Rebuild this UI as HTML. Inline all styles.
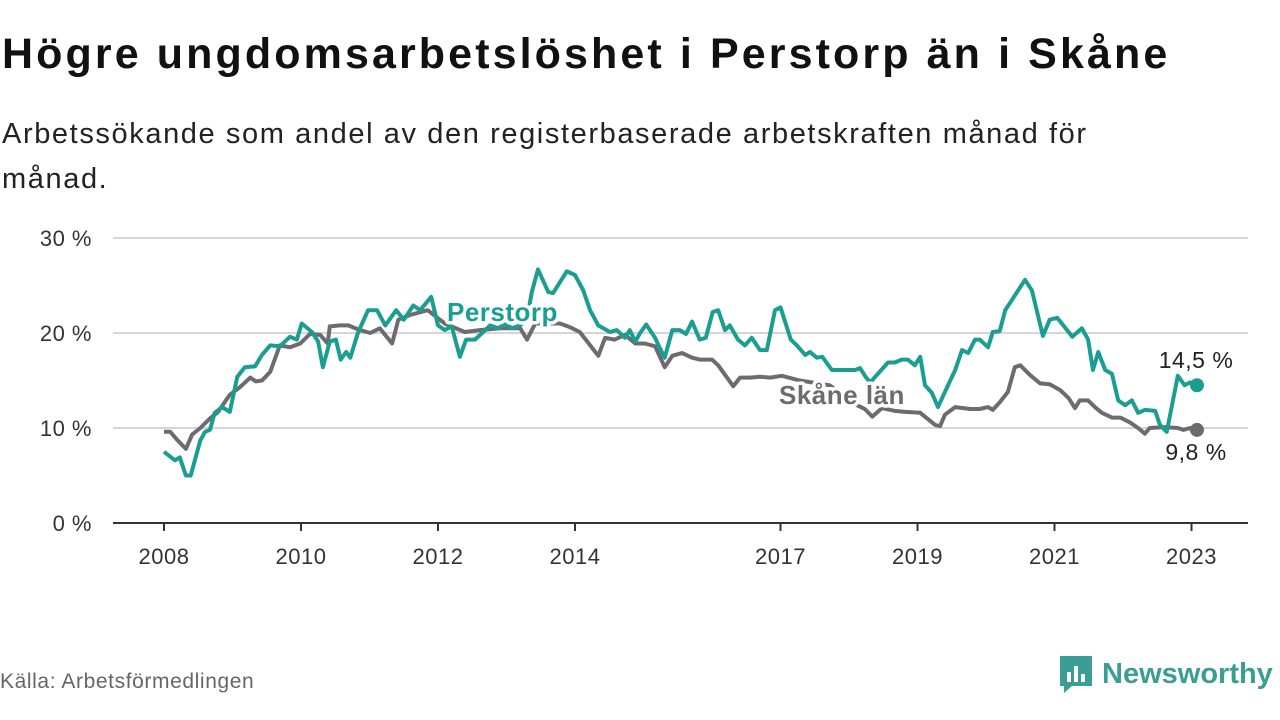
<!DOCTYPE html>
<html><head><meta charset="utf-8">
<style>
body{margin:0;width:1280px;height:720px;background:#fff;font-family:"Liberation Sans",sans-serif;overflow:hidden;position:relative}
h1{position:absolute;left:2px;top:30px;margin:0;font-size:43px;font-weight:bold;color:#111;letter-spacing:3.1px;white-space:nowrap}
.sub{position:absolute;left:2px;top:112px;margin:0;font-size:29px;line-height:45px;color:#222;width:1180px;letter-spacing:1.6px}
.src{position:absolute;left:0;top:670px;font-size:21px;color:#666;letter-spacing:0.6px}
.logo{position:absolute;left:1058px;top:654px;display:flex;align-items:center}
.logo span{font-size:29px;font-weight:bold;color:#3a9e94;margin-left:8px}
</style></head><body>
<h1>Högre ungdomsarbetslöshet i Perstorp än i Skåne</h1>
<p class="sub">Arbetssökande som andel av den registerbaserade arbetskraften månad för månad.</p>
<svg id="chart" width="1280" height="720" style="position:absolute;left:0;top:0"></svg>
<div class="src">Källa: Arbetsförmedlingen</div>
<div class="logo">
<svg width="36" height="40"><path d="M2 2h32v30h-20l-8 7v-7h-4z" fill="#3a9e94"/><rect x="9" y="18" width="4" height="10" fill="#fff"/><rect x="16" y="12" width="4" height="16" fill="#fff"/><rect x="23" y="20" width="4" height="8" fill="#fff"/></svg>
<span>Newsworthy</span></div>
<script>
const yTicks=[0,10,20,30];
const yTickLabels=["0 %","10 %","20 %","30 %"];
const xTicks=[2008,2010,2012,2014,2017,2019,2021,2023];
const perT=[2008.00,2008.16,2008.23,2008.32,2008.39,2008.53,2008.60,2008.67,2008.74,2008.85,2008.96,2009.07,2009.18,2009.33,2009.43,2009.55,2009.69,2009.84,2009.94,2010.01,2010.16,2010.25,2010.32,2010.42,2010.51,2010.58,2010.66,2010.72,2010.83,2010.98,2011.11,2011.23,2011.39,2011.50,2011.64,2011.74,2011.90,2012.00,2012.10,2012.20,2012.32,2012.41,2012.54,2012.66,2012.76,2012.88,2012.98,2013.08,2013.20,2013.30,2013.37,2013.46,2013.61,2013.68,2013.88,2014.00,2014.12,2014.22,2014.34,2014.51,2014.61,2014.73,2014.80,2014.88,2014.95,2015.04,2015.17,2015.24,2015.31,2015.42,2015.53,2015.62,2015.71,2015.82,2015.91,2016.01,2016.09,2016.19,2016.26,2016.38,2016.48,2016.58,2016.70,2016.80,2016.92,2017.00,2017.15,2017.24,2017.36,2017.43,2017.53,2017.61,2017.75,2017.94,2018.09,2018.16,2018.25,2018.31,2018.57,2018.67,2018.77,2018.86,2018.96,2019.04,2019.11,2019.21,2019.30,2019.40,2019.55,2019.65,2019.74,2019.84,2019.91,2020.03,2020.10,2020.20,2020.28,2020.38,2020.57,2020.67,2020.83,2020.93,2021.04,2021.15,2021.26,2021.40,2021.49,2021.56,2021.64,2021.74,2021.84,2021.93,2022.03,2022.13,2022.22,2022.32,2022.47,2022.54,2022.64,2022.80,2022.90,2022.98,2023.08];
const perV=[7.5,6.6,6.9,5.0,5.0,8.7,9.6,9.8,11.6,12.2,11.7,15.4,16.4,16.5,17.7,18.7,18.6,19.6,19.3,21.0,20.1,19.1,16.4,19.1,19.3,17.2,18.0,17.4,20.0,22.4,22.4,20.8,22.4,21.4,22.9,22.4,23.8,20.8,20.3,20.7,17.5,19.3,19.3,20.1,20.8,20.5,21.0,20.5,20.8,21.5,24.3,26.7,24.3,24.2,26.5,26.1,24.5,22.4,20.8,20.1,20.3,19.5,20.3,19.1,20.0,20.9,19.5,18.4,17.4,20.3,20.3,19.9,21.2,19.3,19.5,22.2,22.4,20.3,20.8,19.3,18.7,19.5,18.2,18.2,22.4,22.7,19.3,18.7,17.7,18.0,17.4,17.5,16.1,16.1,16.1,16.3,15.3,14.8,16.9,16.9,17.2,17.2,16.6,17.5,14.5,13.7,12.2,13.8,16.1,18.2,17.9,19.3,19.3,18.5,20.1,20.2,22.4,23.5,25.6,24.5,19.7,21.4,21.6,20.6,19.6,20.5,19.3,16.1,18.0,16.1,15.7,12.9,12.4,12.9,11.6,11.9,11.8,10.3,9.6,15.5,14.5,14.8,14.5];
const skaT=[2008.00,2008.09,2008.20,2008.32,2008.41,2008.53,2008.67,2008.79,2008.96,2009.11,2009.26,2009.34,2009.43,2009.55,2009.69,2009.84,2009.99,2010.13,2010.28,2010.39,2010.42,2010.57,2010.69,2010.86,2011.01,2011.15,2011.33,2011.42,2011.59,2011.85,2012.10,2012.39,2012.61,2012.91,2013.20,2013.30,2013.42,2013.78,2013.93,2014.07,2014.34,2014.44,2014.58,2014.73,2014.88,2015.02,2015.17,2015.31,2015.42,2015.56,2015.71,2015.82,2016.00,2016.09,2016.19,2016.31,2016.41,2016.55,2016.70,2016.85,2017.02,2017.28,2017.72,2018.09,2018.23,2018.34,2018.48,2018.67,2018.82,2019.04,2019.26,2019.33,2019.40,2019.55,2019.77,2019.91,2020.03,2020.10,2020.20,2020.32,2020.42,2020.50,2020.64,2020.79,2020.93,2021.08,2021.20,2021.30,2021.37,2021.49,2021.59,2021.69,2021.84,2021.96,2022.10,2022.22,2022.32,2022.39,2022.61,2022.80,2022.88,2022.98,2023.08];
const skaV=[9.6,9.6,8.7,7.8,9.3,10,11,11.7,13.5,14.3,15.3,14.9,15.0,15.9,18.7,18.5,18.9,19.9,19.8,18.9,20.7,20.8,20.8,20.3,20.0,20.5,18.9,21.4,21.9,22.4,21,20.1,20.3,20.5,20.5,19.3,21,21,20.6,20.1,17.6,19.5,19.3,19.8,18.9,18.9,18.6,16.4,17.6,17.9,17.4,17.2,17.2,16.6,15.6,14.4,15.3,15.3,15.4,15.3,15.5,15.0,14.5,12.5,12.0,11.2,12.1,11.8,11.7,11.6,10.3,10.2,11.4,12.2,12.0,12.0,12.2,11.9,12.7,13.8,16.4,16.6,15.6,14.7,14.6,14.0,13.2,12.1,12.9,12.9,12.2,11.6,11.1,11.1,10.6,10.0,9.4,10.0,10.1,10.0,9.8,10.0,9.8];
const NS="http://www.w3.org/2000/svg";
const svg=document.getElementById('chart');
const X=t=>164+(t-2008)*68.5, Y=v=>523-v*9.5;
function mk(tag,at,txt){const e=document.createElementNS(NS,tag);for(const k in at)e.setAttribute(k,at[k]);if(txt!=null)e.textContent=txt;svg.appendChild(e);return e;}
yTicks.forEach((v,i)=>{
 if(v>0){const g=mk('line',{x1:113,x2:1248,y1:Y(v),y2:Y(v),stroke:'#d6d6d6','stroke-width':2});
 
 }
 const t=mk('text',{x:92,y:Y(v)+8,'text-anchor':'end','font-size':22,fill:'#333','letter-spacing':0.5},yTickLabels[i]);
 
 
});
const ax=mk('line',{x1:113,x2:1248,y1:523,y2:523,stroke:'#333','stroke-width':2});


xTicks.forEach(yr=>{
 const tk=mk('line',{x1:X(yr),x2:X(yr),y1:523,y2:531,stroke:'#333','stroke-width':2});
 
 
 const t=mk('text',{x:X(yr),y:564,'text-anchor':'middle','font-size':22,fill:'#333','letter-spacing':0.5},String(yr));
 
 
});
function line(T,V,c,name){
 const d=T.map((t,i)=>(i?'L':'M')+X(t).toFixed(1)+' '+Y(V[i]).toFixed(1)).join('');
 const p=mk('path',{d:d,fill:'none',stroke:c,'stroke-width':4,'stroke-linejoin':'round'});
 
 
 const n=T.length-1;
 const dot=mk('circle',{cx:X(T[n]),cy:Y(V[n]),r:7,fill:c});
 
 
}
line(skaT,skaV,'#6e6b70','skane');
line(perT,perV,'#1a9e92','perstorp');
function lab(x,y,txt,c,name){
 const t=mk('text',{x:x,y:y,'font-size':26,'font-weight':'bold',fill:c,stroke:'#fff','stroke-width':7,'paint-order':'stroke','stroke-linejoin':'round','letter-spacing':0.5},txt);
 
 
}
lab(447,321,'Perstorp','#1a9e92','perstorp-label');
lab(779,404,'Skåne län','#6e6b70','skane-label');
const e1=mk('text',{x:1196,y:368,'text-anchor':'middle','font-size':23,fill:'#222','letter-spacing':0.5},'14,5 %');


const e2=mk('text',{x:1196,y:460,'text-anchor':'middle','font-size':23,fill:'#222','letter-spacing':0.5},'9,8 %');


</script>
</body></html>
